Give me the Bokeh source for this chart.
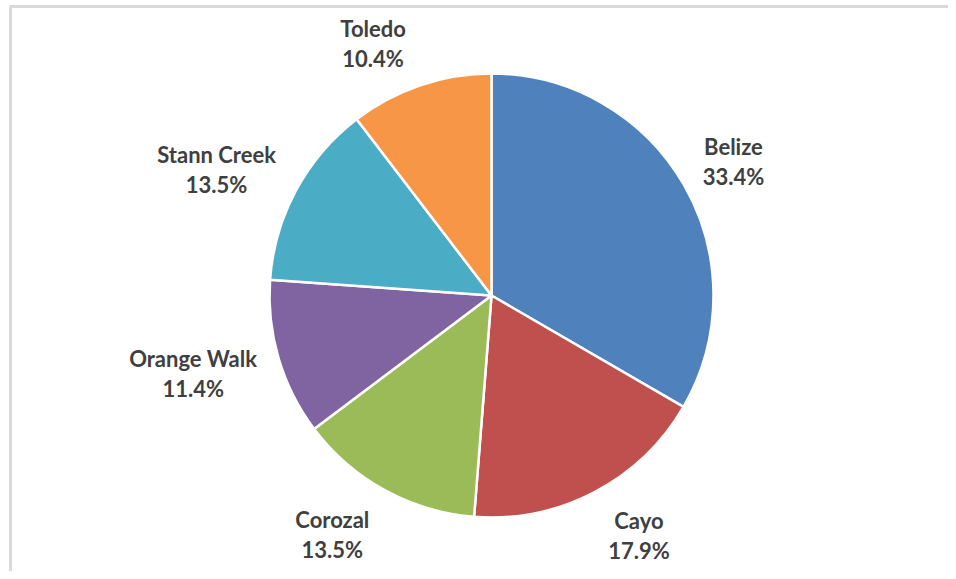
import math
from bokeh.plotting import figure
from bokeh.models import Range1d, ColumnDataSource
from bokeh.core.properties import value
from bokeh.embed import file_html
from bokeh.resources import INLINE

# ---- data ----
districts = ["Belize", "Cayo", "Corozal", "Orange Walk", "Stann Creek", "Toledo"]
shares = [33.4, 17.9, 13.5, 11.4, 13.5, 10.4]
colors = ["#4F81BD", "#C0504D", "#9BBB59", "#8064A2", "#4BACC6", "#F79646"]

# ---- layout / style ----
W, H = 948, 571
CX, CY, R = 491, H - 295, 222
LABEL_DIST = 285
# per-label nudges (pixels) mimicking Excel's outside-end label placement
label_nudge = [(-5, -8), (15, 12), (-22, 11), (-25, 3), (-24, -9), (-27, -18)]
TEXT_COLOR = "#404040"
FONT = "Lato"
FONT_SIZE = "22px"

total = sum(shares)
starts, ends, mids = [], [], []
a = math.pi / 2
for s in shares:
    span = 2 * math.pi * s / total
    starts.append(a)
    ends.append(a - span)
    mids.append(a - span / 2)
    a -= span

p = figure(width=W, height=H, output_backend="svg", toolbar_location=None,
           x_range=Range1d(0, W), y_range=Range1d(0, H),
           min_border=0, min_border_left=0, min_border_right=0,
           min_border_top=0, min_border_bottom=0)
p.axis.visible = False
p.grid.visible = False
p.outline_line_color = None
p.background_fill_color = "white"
p.border_fill_color = "white"

# light frame (top and left visible in reference)
p.line(x=[10, 10, W], y=[0, H - 6, H - 6], line_color="#D9D9D9", line_width=3)

src = ColumnDataSource(dict(start=starts, end=ends, color=colors))
p.wedge(x=CX, y=CY, radius=R, start_angle="start", end_angle="end",
        direction="clock", fill_color="color", line_color="white",
        line_width=2.5, source=src)

nx, ny, vx, vy, names, vals = [], [], [], [], [], []
for d, s, m, (dx, dy) in zip(districts, shares, mids, label_nudge):
    x = CX + LABEL_DIST * math.cos(m) + dx
    y = CY + LABEL_DIST * math.sin(m) + dy
    nx.append(x); ny.append(y + 15)
    vx.append(x); vy.append(y - 15)
    names.append(d); vals.append(f"{s:.1f}%")

p.text(x=nx, y=ny, text=names, text_align="center", text_baseline="middle",
       text_font=value(FONT), text_font_style="bold", text_font_size=FONT_SIZE,
       text_color=TEXT_COLOR)
p.text(x=vx, y=vy, text=vals, text_align="center", text_baseline="middle",
       text_font=value(FONT), text_font_style="bold", text_font_size=FONT_SIZE,
       text_color=TEXT_COLOR)

open("out.html", "w").write(file_html(p, INLINE))
